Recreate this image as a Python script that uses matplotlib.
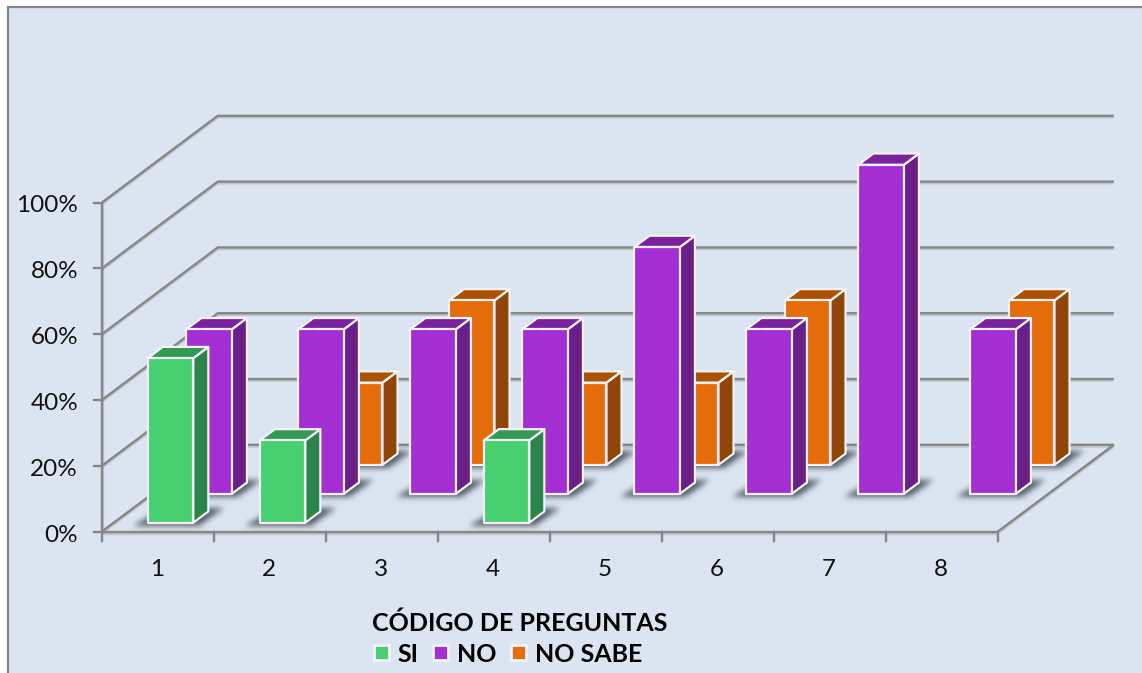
import numpy as np
import matplotlib
matplotlib.use("Agg")
import matplotlib.pyplot as plt
from matplotlib.patches import Polygon, Rectangle
from matplotlib.path import Path

plt.rcParams['font.family'] = ['Lato', 'DejaVu Sans']

# Datos del grafico
categories = ['1', '2', '3', '4', '5', '6', '7', '8']
series_names = ['SI', 'NO', 'NO SABE']
si_values = [50, 25, 0, 25, 0, 0, 0, 0]
no_values = [50, 50, 50, 50, 75, 50, 100, 50]
no_sabe_values = [0, 25, 50, 25, 25, 50, 0, 50]
y_ticks = [0, 20, 40, 60, 80, 100]

# Colores: frente, lado, tapa
GREEN = ('#47CF70', '#2B8449', '#339A54')
PURPLE = ('#A52ED2', '#691E88', '#7A229B')
ORANGE = ('#E46C0A', '#914508', '#AD5205')

# Proyeccion oblicua en pixeles de la figura
W, H = 1142, 673
X0, Y0 = 102.0, 531.5
CAT_W = 112.0
DX, DY = 38.6, -28.9
PX_PER_PCT = 3.29
BAR_OFFSET = 34.0
BAR_W = 45.5
DEPTH_A, DEPTH_B = 0.305, 0.695
GRID = '#868686'
BG = '#DBE5F1'


def project(cat, depth, value=0.0):
    """Pasa (categoria, profundidad, valor) a coordenadas de pantalla."""
    return (X0 + cat * CAT_W + depth * DX, Y0 + depth * DY - value * PX_PER_PCT)


def bar_x(i):
    return i + BAR_OFFSET / CAT_W, i + (BAR_OFFSET + BAR_W) / CAT_W


def gray_line(ax, xs, ys, z=2):
    # linea de rejilla con su sombra suave
    ax.plot(np.array(xs), np.array(ys) + 1.2, color='#555555', lw=2.4, alpha=0.22,
            zorder=z, solid_capstyle='butt')
    ax.plot(xs, ys, color=GRID, lw=1.7, zorder=z + 0.1, solid_capstyle='butt')


def gaussian_blur(img, sigma):
    r = int(3 * sigma)
    k = np.exp(-0.5 * (np.arange(-r, r + 1) / sigma) ** 2)
    k /= k.sum()
    img = np.apply_along_axis(lambda v: np.convolve(v, k, mode='same'), 0, img)
    return np.apply_along_axis(lambda v: np.convolve(v, k, mode='same'), 1, img)


def floor_shadow(ax, rows):
    """Sombra difuminada de todas las barras sobre el suelo."""
    yy, xx = np.mgrid[0:H, 0:W]
    pts = np.column_stack([xx.ravel() + 0.5, yy.ravel() + 0.5])
    mask = np.zeros((H, W))
    for row, (values, _) in enumerate(rows):
        for i, v in enumerate(values):
            if not v:
                continue
            x1, x2 = bar_x(i)
            fl = np.array(project(x1, row + DEPTH_A)) + (-14, 3)
            fr = np.array(project(x2, row + DEPTH_A)) + (6, 3)
            br = np.array(project(x2, row + DEPTH_B)) + (15, -3)
            bl = np.array(project(x1, row + DEPTH_B)) + (0, -3)
            inside = Path([fl, fr, br, bl]).contains_points(pts)
            mask = np.maximum(mask, inside.reshape(H, W).astype(float))
    mask = gaussian_blur(mask, 3.0)
    rgba = np.zeros((H, W, 4))
    rgba[..., :3] = (0.24, 0.27, 0.32)
    rgba[..., 3] = np.clip(mask * 0.85, 0, 1)
    ax.imshow(rgba, extent=(0, W, H, 0), zorder=3, aspect='auto', interpolation='bilinear')


def draw_bar(ax, i, row, value, colors, z):
    x1, x2 = bar_x(i)
    d1, d2 = row + DEPTH_A, row + DEPTH_B
    front = [project(x1, d1), project(x2, d1), project(x2, d1, value), project(x1, d1, value)]
    side = [project(x2, d1), project(x2, d2), project(x2, d2, value), project(x2, d1, value)]
    top = [project(x1, d1, value), project(x2, d1, value), project(x2, d2, value), project(x1, d2, value)]
    for pts, col in ((side, colors[1]), (top, colors[2]), (front, colors[0])):
        ax.add_patch(Polygon(pts, closed=True, facecolor=col, edgecolor='#F4F2F6',
                             lw=1.6, joinstyle='round', zorder=z))


fig = plt.figure(figsize=(W / 100, H / 100), dpi=100, facecolor='white')
ax = fig.add_axes([0, 0, 1, 1])
ax.set_xlim(0, W)
ax.set_ylim(H, 0)
ax.axis('off')

# Panel de fondo
ax.add_patch(Rectangle((8, 6.5), W + 20, H + 20, facecolor=BG, edgecolor=GRID, lw=1.6, zorder=0))

# Rejilla de pared lateral y del fondo
n_cat = len(categories)
for t in y_ticks:
    a = project(0, 0, t)
    b = project(0, 3, t)
    c = project(n_cat, 3, t)
    gray_line(ax, [a[0], b[0], c[0]], [a[1], b[1], c[1]])
    ax.plot([a[0] - 8, a[0]], [a[1], a[1]], color=GRID, lw=1.7, zorder=2)
    ax.text(a[0] - 24, a[1] + 3.5, f'{t}%', ha='right', va='center', fontsize=17.5, color='#111111')

# Ejes y suelo
p0 = project(0, 0, 0)
p1 = project(0, 0, 100)
gray_line(ax, [p0[0], p1[0]], [p0[1], p1[1]])
pe = project(n_cat, 0, 0)
gray_line(ax, [p0[0], pe[0]], [p0[1], pe[1]])
pb = project(n_cat, 3, 0)
gray_line(ax, [pe[0], pb[0]], [pe[1], pb[1]])
for i in range(n_cat + 1):
    px, py = project(i, 0, 0)
    ax.plot([px, px], [py, py + 9], color=GRID, lw=1.7, zorder=2)
for i, name in enumerate(categories):
    px, py = project(i + 0.5, 0, 0)
    ax.text(px - 1, py + 38, name, ha='center', va='center', fontsize=17.5, color='#111111')

# Barras, de atras hacia adelante
rows = [(si_values, GREEN), (no_values, PURPLE), (no_sabe_values, ORANGE)]
floor_shadow(ax, rows)
for row in (2, 1, 0):
    values, colors = rows[row]
    for i, v in enumerate(values):
        if v:
            draw_bar(ax, i, row, v, colors, z=5 + (2 - row) + i * 0.01)

# Titulo de eje y leyenda
ax.text(520, 623, 'CÓDIGO DE PREGUNTAS', ha='center', va='center', fontsize=18,
        fontweight='bold', color='black', zorder=20)
legend_x = [374, 433, 511]
text_x = [397, 457, 535]
for name, sx, tx, colors in zip(series_names, legend_x, text_x, (GREEN, PURPLE, ORANGE)):
    ax.add_patch(Rectangle((sx, 645), 15, 15, facecolor=colors[0], edgecolor='#F4F2F6', lw=2, zorder=20))
    ax.text(tx, 654, name, ha='left', va='center', fontsize=18, fontweight='bold',
            color='black', zorder=20)

fig.savefig('out.png', dpi=100, facecolor='white')
